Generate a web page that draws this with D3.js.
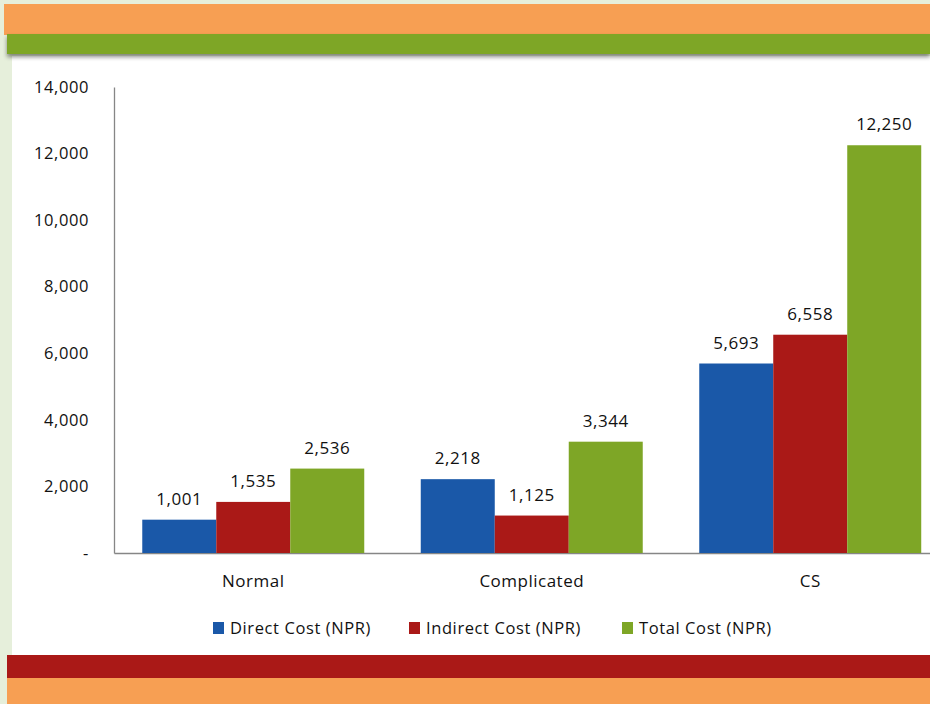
<!DOCTYPE html>
<html><head><meta charset="utf-8">
<script src="https://cdn.jsdelivr.net/npm/d3@7"></script>
<style>
html,body{margin:0;padding:0;background:#e6efdb;}
svg{display:block;}
</style></head>
<body>
<svg id="c" width="930" height="704"></svg>
<script>
const categories = ["Normal", "Complicated", "CS"];
const seriesNames = ["Direct Cost (NPR)", "Indirect Cost (NPR)", "Total Cost (NPR)"];
const directCost = [1001, 2218, 5693];
const indirectCost = [1535, 1125, 6558];
const totalCost = [2536, 3344, 12250];
const yTicks = [0, 2000, 4000, 6000, 8000, 10000, 12000, 14000];
const colors = ["#1a58a8", "#aa1917", "#7ea626"];

const series = [directCost, indirectCost, totalCost];
const svg = d3.select("#c");
const font = "'Open Sans', 'Liberation Sans', sans-serif";

// decorative frame
const defs = svg.append("defs");
const f = defs.append("filter").attr("id","sh").attr("x","-5%").attr("y","-50%").attr("width","110%").attr("height","200%");
f.append("feDropShadow").attr("dx",0).attr("dy",3).attr("stdDeviation",2).attr("flood-color","#000").attr("flood-opacity",0.45);

svg.append("rect").attr("x",0).attr("y",0).attr("width",930).attr("height",704).attr("fill","#e6efdb");
svg.append("rect").attr("x",12).attr("y",56).attr("width",918).attr("height",600).attr("fill","#ffffff");
svg.append("rect").attr("x",4).attr("y",4).attr("width",926).attr("height",31).attr("fill","#f79f53");
svg.append("rect").attr("x",7).attr("y",34).attr("width",923).attr("height",20).attr("fill","#7ea626").attr("filter","url(#sh)");
svg.append("rect").attr("x",7).attr("y",655).attr("width",923).attr("height",24).attr("fill","#aa1917");
svg.append("rect").attr("x",7).attr("y",678).attr("width",923).attr("height",26).attr("fill","#f79f53");

// scales
const y = d3.scaleLinear().domain([0, 14000]).range([553, 87]);
const x0 = d3.scaleBand().domain(categories).range([114, 949.5]).paddingInner(0.2029).paddingOuter(0.1015);
const x1 = d3.scaleBand().domain(seriesNames).range([0, x0.bandwidth()]);

// y axis
const yAxis = d3.axisLeft(y).tickValues(yTicks).tickSize(0).tickPadding(25)
  .tickFormat(d => d === 0 ? "-" : d3.format(",")(d));
const gy = svg.append("g").attr("transform","translate(114,0)").call(yAxis);
gy.select(".domain").attr("stroke","#868686").attr("stroke-width",1.3);
gy.selectAll("text").attr("font-family",font).attr("font-size",16.5).attr("letter-spacing","0.6px").attr("fill","#111");

// x axis
const xAxis = d3.axisBottom(x0).tickSize(0).tickPadding(22);
const gx = svg.append("g").attr("transform","translate(0,553)").call(xAxis);
gx.select(".domain").attr("stroke","#868686").attr("stroke-width",1.3);
gx.selectAll("text").attr("font-family",font).attr("font-size",17).attr("letter-spacing","0.5px").attr("fill","#111");

// bars
const groups = svg.append("g").selectAll("g").data(categories).join("g")
  .attr("transform", d => `translate(${x0(d)},0)`);
groups.selectAll("rect").data((c, i) => series.map((s, k) => ({k, v: s[i]}))).join("rect")
  .attr("x", d => x1(seriesNames[d.k]))
  .attr("width", x1.bandwidth())
  .attr("y", d => y(d.v))
  .attr("height", d => y(0) - y(d.v))
  .attr("fill", d => colors[d.k]);
groups.selectAll("text").data((c, i) => series.map((s, k) => ({k, v: s[i]}))).join("text")
  .attr("x", d => x1(seriesNames[d.k]) + x1.bandwidth()/2)
  .attr("y", d => y(d.v) - 15)
  .attr("text-anchor","middle")
  .attr("font-family",font).attr("font-size",17).attr("letter-spacing","0.5px").attr("fill","#111")
  .text(d => d3.format(",")(d.v));

// legend
const legX = [213, 409, 622];
const leg = svg.append("g").selectAll("g").data(seriesNames).join("g")
  .attr("transform", (d, i) => `translate(${legX[i]},622)`);
leg.append("rect").attr("width",11).attr("height",12).attr("fill",(d,i)=>colors[i]);
leg.append("text").attr("x",17).attr("y",12)
  .attr("font-family",font).attr("font-size",16.5).attr("letter-spacing","0.6px").attr("fill","#111").text(d=>d);
</script>
</body></html>
